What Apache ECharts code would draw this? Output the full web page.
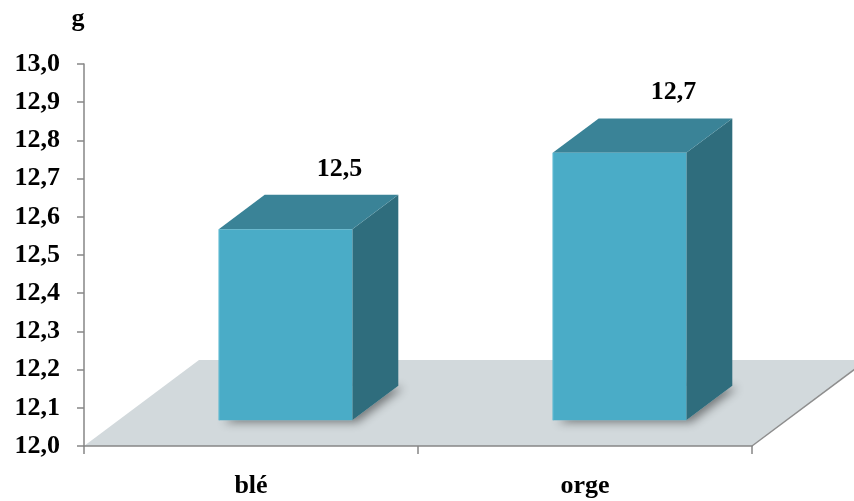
<!DOCTYPE html>
<html>
<head>
<meta charset="utf-8">
<script src="https://cdn.jsdelivr.net/npm/echarts@6/dist/echarts.min.js"></script>
<style>
    html, body { margin: 0; padding: 0; background: #fff; }
    #chart1 { width: 854px; height: 501px; }
</style>
</head>
<body>
<div id="chart1"></div>
<script>
var categories = ['blé', 'orge'];
var values = [12.5, 12.7];
var yMin = 12.0;
var yMax = 13.0;
var unitName = 'g';

// 3D look: depth vector of the floor, bar sits between 30% and 70% of it
var depthX = 115, depthY = -86;
var frontPos = 0.3, barDepth = 0.4;
var serif = '"Liberation Serif", "Times New Roman", serif';
var fontSize = 26;

var formatNum = function (v) {
    return v.toFixed(1).replace('.', ',');
};

var renderFloor = function (params, api) {
    var band = api.size([1, 0])[0];
    var p0 = api.coord([0, yMin]);
    var left = p0[0] - band / 2;
    var right = left + band * categories.length;
    var y = p0[1];
    return {
        type: 'group',
        children: [{
            type: 'polygon',
            shape: { points: [[left, y], [right, y], [right + depthX, y + depthY], [left + depthX, y + depthY]] },
            style: { fill: '#d2d9dc' }
        }, {
            type: 'line',
            shape: { x1: right, y1: y, x2: right + depthX, y2: y + depthY },
            style: { stroke: '#8e8e8e', lineWidth: 1.5 }
        }]
    };
};

var renderBar = function (params, api) {
    var idx = api.value(0);
    var base = api.coord([idx, yMin]);
    var top = api.coord([idx, api.value(1)]);
    var w = api.size([1, 0])[0] * 0.4;
    var fx = depthX * frontPos, fy = depthY * frontPos;
    var bx = depthX * barDepth, by = depthY * barDepth;
    var x0 = base[0] - w / 2 + fx;
    var x1 = x0 + w;
    var yb = base[1] + fy;
    var yt = top[1] + fy;
    return {
        type: 'group',
        children: [{
            // soft shadow under the box
            type: 'polygon',
            shape: { points: [[x0, yb], [x1, yb], [x1 + bx, yb + by], [x0 + bx, yb + by]] },
            style: { fill: '#c8d0d3', shadowBlur: 10, shadowColor: 'rgba(0,0,0,0.45)', shadowOffsetX: 5, shadowOffsetY: 2 }
        }, {
            type: 'polygon',
            shape: { points: [[x1, yt], [x1 + bx, yt + by], [x1 + bx, yb + by], [x1, yb]] },
            style: { fill: '#2f6d7d' }
        }, {
            type: 'polygon',
            shape: { points: [[x0, yt], [x1, yt], [x1 + bx, yt + by], [x0 + bx, yt + by]] },
            style: { fill: '#3a8397' }
        }, {
            type: 'rect',
            shape: { x: x0, y: yt, width: w, height: yb - yt },
            style: { fill: '#4aacc7' }
        }, {
            type: 'line',
            shape: { x1: x0 + 0.5, y1: yt, x2: x0 + 0.5, y2: yb },
            style: { stroke: '#5bbad3', lineWidth: 1 }
        }, {
            type: 'text',
            x: x0 + w / 2 + bx + 8,
            y: yt + by - 26,
            style: {
                text: formatNum(api.value(1)),
                font: 'bold ' + fontSize + 'px ' + serif,
                fill: '#000',
                align: 'center',
                verticalAlign: 'middle'
            }
        }]
    };
};

var myChart = echarts.init(document.getElementById('chart1'));
var option = {
    animation: false,
    grid: { left: 84, right: 102, top: 64, bottom: 55 },
    xAxis: {
        type: 'category',
        data: categories,
        z: 5,
        axisLine: { lineStyle: { color: '#868686', width: 1.5 } },
        axisTick: { show: true, length: 8, lineStyle: { color: '#868686', width: 1.5 } },
        axisLabel: { margin: 27, fontFamily: serif, fontWeight: 'bold', fontSize: fontSize, color: '#000' }
    },
    yAxis: {
        type: 'value',
        min: yMin,
        max: yMax,
        interval: 0.1,
        name: unitName,
        nameLocation: 'end',
        nameGap: 32,
        nameTextStyle: { fontFamily: serif, fontWeight: 'bold', fontSize: fontSize, color: '#000', padding: [0, 12, 0, 0] },
        z: 5,
        axisLine: { show: true, lineStyle: { color: '#868686', width: 1.5 } },
        axisTick: { show: true, length: 7, lineStyle: { color: '#868686', width: 1.5 } },
        splitLine: { show: false },
        axisLabel: {
            margin: 24,
            fontFamily: serif,
            fontWeight: 'bold',
            fontSize: fontSize,
            color: '#000',
            formatter: function (v) { return formatNum(v); }
        }
    },
    series: [{
        type: 'custom',
        renderItem: renderFloor,
        clip: false,
        z: 1,
        data: [[0, yMin]]
    }, {
        type: 'custom',
        renderItem: renderBar,
        clip: false,
        z: 2,
        data: values.map(function (v, i) { return [i, v]; })
    }]
};
myChart.setOption(option);
</script>
</body>
</html>
